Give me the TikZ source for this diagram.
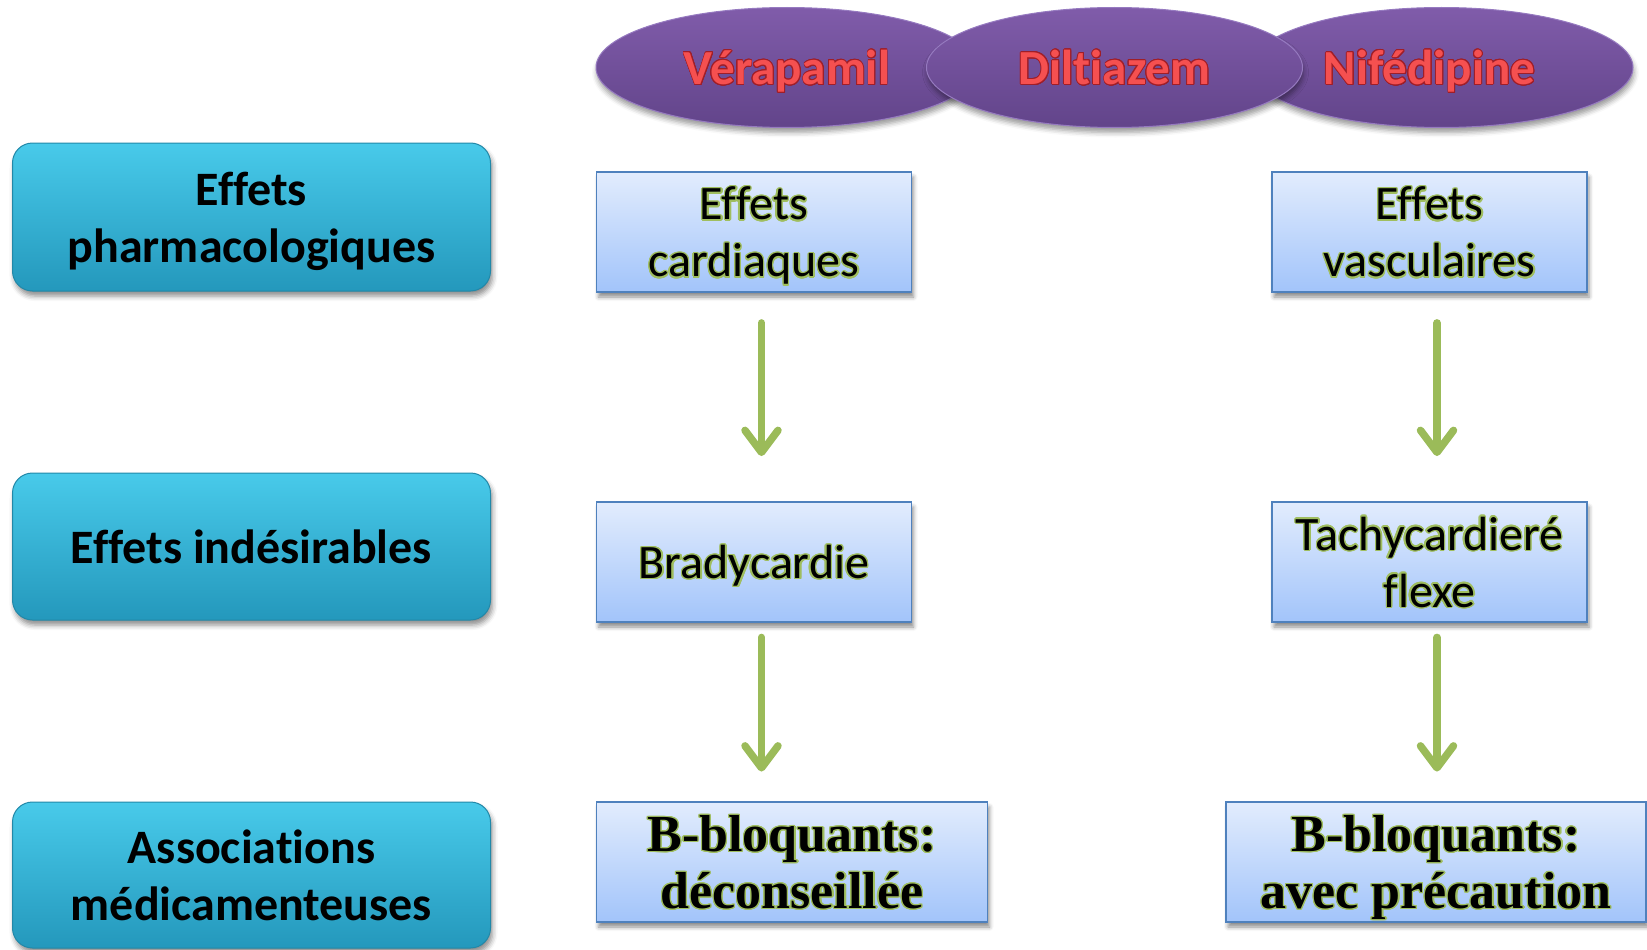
\documentclass[tikz,border=0pt]{standalone}
\usepackage{fontspec}
\setmainfont{Carlito}[Ligatures=NoCommon]
\newfontfamily\bbfont{Liberation Serif}
\usepackage{contour}
\contourlength{1.3pt}
\contournumber{20}
\usetikzlibrary{shapes.geometric,arrows.meta,shadows.blur}
\definecolor{cyantop}{RGB}{72,202,234}
\definecolor{cyanbot}{RGB}{36,152,188}
\definecolor{cyanborder}{RGB}{34,136,168}
\definecolor{lbtop}{RGB}{226,236,253}
\definecolor{lbbot}{RGB}{162,196,250}
\definecolor{lbborder}{RGB}{79,129,189}
\definecolor{arrowgreen}{RGB}{155,187,89}
\definecolor{outlinegreen}{RGB}{160,190,95}
\definecolor{purptop}{RGB}{128,92,170}
\definecolor{purpbot}{RGB}{98,68,138}
\definecolor{purpborder}{RGB}{150,122,192}
\definecolor{drugred}{RGB}{245,80,80}
\definecolor{drugdark}{RGB}{160,30,40}
\newcommand{\nodepth}[1]{\raisebox{0pt}[\height][0pt]{#1}}
\newcommand{\gtext}[1]{\contour{outlinegreen}{#1}}
\newcommand{\glast}[1]{\nodepth{\contour{outlinegreen}{#1}}}
\newcommand{\rtext}[1]{\nodepth{\contourlength{0.9pt}\contour{drugdark}{#1}}}
\begin{document}
\begin{tikzpicture}[x=1pt,y=-1pt,
  rowbox/.style={draw=cyanborder, line width=1pt, rounded corners=20pt,
    top color=cyantop, bottom color=cyanbot,
    minimum width=478pt, inner sep=0pt, align=center,
    font=\fontsize{48}{57}\selectfont\bfseries,
    blur shadow={shadow xshift=2pt, shadow yshift=-5pt, shadow blur radius=5pt, shadow opacity=45}},
  effbox/.style={draw=lbborder, line width=1.8pt,
    top color=lbtop, bottom color=lbbot,
    minimum height=120pt, inner sep=0pt, align=center,
    font=\fontsize{48}{57}\selectfont,
    blur shadow={shadow xshift=2pt, shadow yshift=-5pt, shadow blur radius=4pt, shadow opacity=45}},
  serifbox/.style={effbox, font=\bbfont\bfseries\fontsize{52}{57}\selectfont},
  drug/.style={ellipse, draw=purpborder, line width=1pt,
    top color=purptop, bottom color=purpbot,
    minimum height=120pt, inner sep=0pt,
    font=\fontsize{49}{57}\selectfont\bfseries, text=drugred,
    blur shadow={shadow xshift=1pt, shadow yshift=-5pt, shadow blur radius=5pt, shadow opacity=40}},
  garrow/.style={draw=arrowgreen, line width=7.5pt, line cap=round,
    -{Straight Barb[length=22pt, width=33pt, line cap=round, line join=round]}}
]
\useasboundingbox (0,0) rectangle (1647,950);
\clip (0,0) rectangle (1647,950);

% drug ellipses
\node[drug, minimum width=382pt] (ver) at (787,67.5) {\rtext{Vérapamil}};
\node[drug, minimum width=383pt] (nif) at (1441.5,67.5) {\hspace*{-24pt}\rtext{Nifédipine}};
\node[drug, minimum width=376pt] (dil) at (1114.5,67.5) {\rtext{Diltiazem}};

% row labels
\node[rowbox, minimum height=148pt] (r1) at (251.5,217) {Effets\\\nodepth{pharmacologiques}};
\node[rowbox, minimum height=147pt] (r2) at (251.5,546.5) {\nodepth{Effets indésirables}};
\node[rowbox, minimum height=146pt] (r3) at (251.5,875) {Associations\\\nodepth{médicamenteuses}};

% left column
\node[effbox, minimum width=315pt] (card) at (754,232) {\gtext{Effets}\\\glast{cardiaques}};
\node[effbox, minimum width=315pt] (brady) at (754,562) {\glast{Bradycardie}};
\node[serifbox, minimum width=391pt] (bb1) at (792,862) {\gtext{B-bloquants:}\\\glast{déconseillée}};

% right column
\node[effbox, minimum width=315pt] (vasc) at (1429.5,232) {\gtext{Effets}\\\glast{vasculaires}};
\node[effbox, minimum width=315pt] (tachy) at (1429.5,562) {\gtext{Tachycardieré}\\\glast{flexe}};
\node[serifbox, minimum width=420pt] (bb2) at (1436,862) {\gtext{B-bloquants:}\\\glast{avec précaution}};

% arrows
\draw[garrow, shorten <=30pt, shorten >=45pt] ([xshift=7.5pt]card.south) -- ([xshift=7.5pt]brady.north);
\draw[garrow, shorten <=14.5pt, shorten >=29.5pt] ([xshift=7.5pt]brady.south) -- ([xshift=7.5pt]brady.south |- bb1.north);
\draw[garrow, shorten <=30pt, shorten >=45pt] ([xshift=7.5pt]vasc.south) -- ([xshift=7.5pt]tachy.north);
\draw[garrow, shorten <=14.5pt, shorten >=29.5pt] ([xshift=7.5pt]tachy.south) -- ([xshift=7.5pt]tachy.south |- bb2.north);
\end{tikzpicture}
\end{document}
